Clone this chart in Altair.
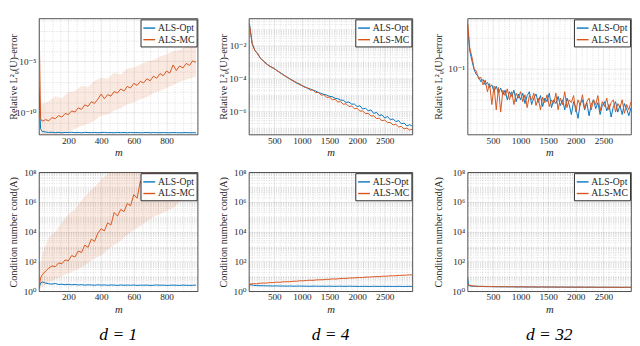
import altair as alt
import pandas as pd

BLUE = "#0072BD"
ORANGE = "#D95319"
INK = "#262626"
FONT = "'Liberation Serif', 'Times New Roman', Times, 'DejaVu Serif', serif"
SERIES = ["ALS-Opt", "ALS-MC"]

# ---------------- d = 1 : relative error (log10 values) ----------------
M1 = [20, 30] + list(range(40, 1000, 20))
ERR1_OPT = [-7.5, -11.6, -11.85, -11.9, -11.95, -11.93, -11.97, -11.94, -11.98, -11.95,
            -11.96, -11.93, -11.97, -11.95, -11.98, -11.94, -11.96, -11.97, -11.95, -11.98,
            -11.96, -11.94, -11.97, -11.96, -11.98, -11.95, -11.97, -11.96, -11.98, -11.95,
            -11.97, -11.96, -11.98, -11.97, -11.95, -11.98, -11.96, -11.97, -11.98, -11.96,
            -11.97, -11.98, -11.96, -11.97, -11.98, -11.97, -11.96, -11.98, -11.97, -11.98]
ERR1_MC = [-0.5, -10.6, -10.85,
           -10.7, -10.8, -10.5, -10.6, -10.3, -10.45, -10.1, -10.2, -9.85, -9.95,
           -9.55, -9.7, -9.25, -9.4, -8.95, -9.1, -8.7, -8.2, -8.65, -8.25,
           -8.4, -7.95, -8.1, -7.7, -7.9, -7.45, -7.6, -7.15, -7.35, -6.95,
           -7.1, -6.7, -6.9, -6.45, -6.65, -6.2, -6.4, -5.95, -6.15, -5.35,
           -5.9, -5.45, -5.65, -5.2, -5.4, -4.95, -5.1]
M1_BAND = [30, 40] + list(range(80, 961, 40)) + [980]
ERR1_MC_HI = [-8.5, -9.2, -8.9, -8.4, -8.6, -8.0, -7.9, -7.4, -7.5, -6.9,
              -6.6, -6.7, -6.1, -6.3, -5.7, -5.6, -5.3, -5.0, -4.9, -4.5,
              -4.3, -4.0, -3.9, -3.5, -3.3, -3.2]
ERR1_MC_LO = [-12.3, -12.3, -12.3, -12.3, -12.1, -11.9, -11.6, -11.3, -11.1, -10.8,
              -10.3, -10.2, -9.8, -9.6, -9.2, -9.0, -8.7, -8.5, -8.1, -7.9,
              -7.6, -7.3, -7.0, -6.8, -6.6, -6.5]

# ---------------- d = 4 : relative error (log10 values) ----------------
M2 = list(range(50, 3001, 50))
ERR2_OPT = [-0.65, -1.9, -2.28, -2.5, -2.75, -2.92, -3.05, -3.22, -3.28, -3.4,
            -3.5, -3.64, -3.72, -3.86, -3.93, -4.07, -4.12, -4.27, -4.3, -4.43,
            -4.48, -4.6, -4.62, -4.7, -4.76, -4.84, -4.9, -4.96, -5.0, -5.08,
            -5.1, -5.2, -5.22, -5.3, -5.32, -5.45, -5.42, -5.55, -5.55, -5.7,
            -5.65, -5.85, -5.8, -5.95, -5.9, -6.12, -6.05, -6.25, -6.2, -6.4,
            -6.3, -6.5, -6.45, -6.62, -6.55, -6.75, -6.7, -6.88, -6.8, -6.9]
ERR2_MC = [-0.7, -1.85, -2.3, -2.47, -2.78, -2.9, -3.1, -3.18, -3.33, -3.37,
           -3.53, -3.6, -3.76, -3.83, -3.97, -4.03, -4.18, -4.22, -4.36, -4.4,
           -4.54, -4.53, -4.7, -4.68, -4.85, -4.84, -5.0, -4.98, -5.14, -5.12,
           -5.28, -5.26, -5.42, -5.4, -5.56, -5.53, -5.7, -5.66, -5.83, -5.81,
           -5.98, -5.96, -6.13, -6.11, -6.28, -6.26, -6.43, -6.4, -6.56, -6.52,
           -6.68, -6.66, -6.82, -6.78, -6.94, -6.91, -7.06, -7.01, -7.13, -7.07]

# ---------------- d = 32 : relative error (plain values) ----------------
M3 = list(range(40, 3001, 40))
ERR3_OPT = [0.27, 0.15, 0.12, 0.098, 0.088, 0.084, 0.075, 0.079, 0.07, 0.074, 0.066, 0.07, 0.06, 0.068, 0.058,
            0.065, 0.056, 0.062, 0.05, 0.06, 0.054, 0.062, 0.048, 0.057, 0.05, 0.058, 0.046, 0.055, 0.06, 0.045,
            0.052, 0.057, 0.047, 0.055, 0.043, 0.052, 0.048, 0.058, 0.042, 0.05, 0.046, 0.054, 0.044, 0.05, 0.04,
            0.052, 0.045, 0.036, 0.048, 0.042, 0.033, 0.046, 0.05, 0.04, 0.047, 0.035, 0.045, 0.05, 0.041, 0.047,
            0.036, 0.044, 0.048, 0.039, 0.045, 0.034, 0.043, 0.048, 0.038, 0.044, 0.036, 0.046, 0.041, 0.035, 0.042]
ERR3_MC = [0.29, 0.16, 0.13, 0.1, 0.095, 0.08, 0.083, 0.07, 0.078, 0.06, 0.072, 0.045, 0.068, 0.04, 0.066,
           0.038, 0.062, 0.055, 0.064, 0.05, 0.06, 0.045, 0.058, 0.052, 0.06, 0.048, 0.056, 0.042, 0.055, 0.05,
           0.058, 0.044, 0.052, 0.04, 0.053, 0.047, 0.056, 0.043, 0.05, 0.046, 0.058, 0.04, 0.052, 0.045, 0.06,
           0.042, 0.05, 0.047, 0.055, 0.038, 0.05, 0.044, 0.056, 0.041, 0.048, 0.052, 0.04, 0.05, 0.045, 0.055,
           0.039, 0.048, 0.043, 0.052, 0.04, 0.047, 0.05, 0.038, 0.046, 0.042, 0.05, 0.037, 0.045, 0.04, 0.048]

# ---------------- d = 1 : condition number (log10 values) ----------------
M4 = [20, 30, 40] + list(range(60, 1000, 20))
COND1_OPT = [0.2, 0.55, 0.62, 0.55, 0.5, 0.48, 0.52, 0.45, 0.47, 0.44,
             0.46, 0.43, 0.45, 0.42, 0.44, 0.41, 0.43, 0.42, 0.4, 0.43,
             0.41, 0.42, 0.4, 0.42, 0.41, 0.39, 0.42, 0.4, 0.41, 0.4,
             0.42, 0.39, 0.41, 0.4, 0.41, 0.39, 0.4, 0.42, 0.4, 0.41,
             0.39, 0.4, 0.41, 0.4, 0.39, 0.41, 0.4, 0.39, 0.4, 0.41]
M4_MC = M4[:36]
COND1_MC = [0.2, 0.9, 1.1, 1.35, 1.55, 1.7, 1.65, 1.9, 1.85, 2.1,
            2.05, 2.4, 2.3, 2.7, 2.6, 3.1, 2.95, 3.5, 3.35, 3.9,
            4.2, 4.05, 4.6, 4.45, 5.3, 5.05, 5.5, 5.35, 5.9, 5.75,
            6.5, 6.25, 7.4, 7.05, 8.3, 8.7]
M4_BAND = [20, 40] + list(range(80, 881, 40))
COND1_MC_HI = [1.0, 2.5, 3.6, 4.0, 4.6, 5.2, 5.5, 6.1, 6.6, 7.0, 7.5, 7.9, 8.3,
               9, 9, 9, 9, 9, 9, 9, 9, 9, 9]
COND1_MC_LO = [0.0, 0.3, 0.6, 0.8, 1.0, 1.2, 1.4, 1.6, 1.9, 2.2, 2.4, 2.8, 3.1,
               3.4, 3.8, 4.1, 4.4, 4.7, 5.0, 5.2, 5.4, 5.6, 6.0]

# ---------------- d = 4 / d = 32 : condition number (log10 values) ----------------
M5 = [40] + list(range(60, 3001, 60))
COND4_OPT = [0.42, 0.45, 0.4, 0.38, 0.37, 0.37, 0.36, 0.36, 0.35, 0.36,
             0.35, 0.35, 0.34, 0.35, 0.34, 0.34, 0.35, 0.34, 0.34, 0.33,
             0.34, 0.34, 0.33, 0.34, 0.33, 0.34, 0.33, 0.33, 0.34, 0.33,
             0.33, 0.34, 0.33, 0.33, 0.32, 0.33, 0.33, 0.32, 0.33, 0.33,
             0.32, 0.33, 0.32, 0.33, 0.32, 0.32, 0.33, 0.32, 0.32, 0.33, 0.32]
COND4_MC = [0.02, 0.48, 0.51, 0.5, 0.54, 0.55, 0.55, 0.58, 0.58, 0.61,
            0.6, 0.63, 0.64, 0.64, 0.67, 0.67, 0.7, 0.7, 0.72, 0.74,
            0.73, 0.76, 0.77, 0.77, 0.8, 0.8, 0.83, 0.82, 0.85, 0.86,
            0.86, 0.89, 0.89, 0.91, 0.92, 0.92, 0.95, 0.95, 0.97, 0.98,
            0.98, 1.01, 1.01, 1.03, 1.04, 1.04, 1.07, 1.07, 1.08, 1.1, 1.1]
COND32_OPT = [0.9, 0.38, 0.34, 0.33, 0.32, 0.32, 0.31, 0.31, 0.31, 0.3,
              0.3, 0.3, 0.3, 0.29, 0.3, 0.29, 0.29, 0.29, 0.29, 0.28,
              0.29, 0.28, 0.28, 0.29, 0.28, 0.28, 0.28, 0.28, 0.27, 0.28,
              0.28, 0.27, 0.28, 0.27, 0.27, 0.28, 0.27, 0.27, 0.27, 0.27,
              0.26, 0.27, 0.27, 0.26, 0.27, 0.26, 0.27, 0.26, 0.26, 0.27, 0.26]
COND32_MC = [0.55, 0.42, 0.36, 0.34, 0.33, 0.33, 0.32, 0.32, 0.31, 0.31,
             0.31, 0.3, 0.31, 0.3, 0.3, 0.3, 0.29, 0.3, 0.29, 0.29,
             0.29, 0.29, 0.28, 0.29, 0.28, 0.29, 0.28, 0.28, 0.28, 0.28,
             0.27, 0.28, 0.28, 0.27, 0.28, 0.27, 0.27, 0.27, 0.28, 0.27,
             0.27, 0.26, 0.27, 0.27, 0.26, 0.27, 0.26, 0.26, 0.27, 0.26, 0.26]

ERR_TITLE = "Relative L²ᵨ(U)-error"
COND_TITLE = "Condition number cond(A)"

SUP = str.maketrans("0123456789-", "⁰¹²³⁴⁵⁶⁷⁸⁹⁻")


def pow10(e):
    return "10" + str(e).translate(SUP)


def log_test(e):
    return f"abs(log(datum.value) / LN10 - ({e})) < 0.001"


def minor_log(lo_e, hi_e):
    return [k * 10.0 ** e for e in range(lo_e, hi_e + 1) for k in range(1, 10)]


def y_axis(title, major_exps, minor_vals, lo, hi, extent=21):
    major = [10.0 ** e for e in major_exps]
    vals = sorted(v for v in set(major) | set(minor_vals) if lo <= v <= hi)
    label = "".join(f"{log_test(e)} ? '{pow10(e)}' : " for e in major_exps) + "''"
    test = " || ".join(log_test(e) for e in major_exps)
    return alt.Axis(title=title, values=vals, labelExpr=label, labelOverlap=False,
                    grid=True, gridColor=INK, gridWidth=0.6,
                    gridOpacity={"condition": {"test": test, "value": 0.18}, "value": 0.25},
                    gridDash={"condition": {"test": test, "value": []}, "value": [1, 1.5]},
                    ticks=False, domain=False, labelPadding=3,
                    minExtent=extent, maxExtent=extent, titlePadding=0)


def x_axis(major, minor):
    vals = sorted(set(major) | set(minor))
    test = " || ".join(f"datum.value == {v}" for v in major)
    return alt.Axis(title="m", titleFontStyle="italic", values=vals, format="d",
                    labelExpr=f"({test}) ? datum.label : ''", labelOverlap=False,
                    grid=True, gridColor=INK, gridWidth=0.6,
                    gridOpacity={"condition": {"test": test, "value": 0.18}, "value": 0.25},
                    gridDash={"condition": {"test": test, "value": []}, "value": [1, 1.5]},
                    ticks=False, domain=False, labelPadding=1, titlePadding=2,
                    titleFontSize=11)


def lines_df(m_opt, opt, m_mc, mc, log=True):
    f = (lambda a: [10.0 ** v for v in a]) if log else list
    return pd.concat([
        pd.DataFrame({"m": m_opt, "v": f(opt), "series": "ALS-Opt"}),
        pd.DataFrame({"m": m_mc, "v": f(mc), "series": "ALS-MC"}),
    ], ignore_index=True)


LEGEND = alt.Legend(title=None, orient="top-right", offset=1, fillColor="white",
                    strokeColor=INK, padding=2, symbolType="stroke", symbolSize=150,
                    symbolStrokeWidth=1.4, labelFont=FONT, labelFontSize=10,
                    labelColor=INK, rowPadding=0, labelOffset=2, cornerRadius=0)


def panel(df, bands, xdom, ydom, xax, yax, w, h, title=None):
    xs = alt.Scale(domain=xdom, nice=False, zero=False)
    ys = alt.Scale(type="log", domain=ydom, nice=False)
    layers = []
    for bdf in bands:
        layers.append(alt.Chart(bdf).mark_area(color=ORANGE, opacity=0.13, clip=True).encode(
            x=alt.X("m:Q", scale=xs, axis=xax),
            y=alt.Y("lo:Q", scale=ys, axis=yax),
            y2="hi:Q"))
    layers.append(alt.Chart(df).mark_line(strokeWidth=1, clip=True).encode(
        x=alt.X("m:Q", scale=xs, axis=xax),
        y=alt.Y("v:Q", scale=ys, axis=yax),
        color=alt.Color("series:N", scale=alt.Scale(domain=SERIES, range=[BLUE, ORANGE]),
                        legend=LEGEND)))
    ch = alt.layer(*layers).properties(width=w, height=h)
    if title is not None:
        ch = ch.properties(title=alt.TitleParams(title, orient="bottom", anchor="middle",
                                                 frame="group", offset=13))
    return ch


def band_df(m, lo, hi):
    return pd.DataFrame({"m": m, "lo": [10.0 ** v for v in lo], "hi": [10.0 ** v for v in hi]})


X1_MAJOR = [200, 400, 600, 800]
X1_MINOR = list(range(50, 990, 50))
X2_MAJOR = [500, 1000, 1500, 2000, 2500]
X2_MINOR = list(range(100, 3000, 100))

D1 = [20, 990]
D2 = [40, 3000]

y1 = [10 ** -12.15, 10 ** -0.8]
y2 = [10 ** -7.4, 10 ** -0.33]
y3 = [0.023, 0.31]
yc = [1.0, 1e8]

p1 = panel(lines_df(M1, ERR1_OPT, M1, ERR1_MC),
           [band_df(M1_BAND, ERR1_MC_LO, ERR1_MC_HI)], D1, y1,
           x_axis(X1_MAJOR, X1_MINOR),
           y_axis(ERR_TITLE, [-10, -5], [10.0 ** e for e in range(-13, 1)], *y1), 164, 120)
p2 = panel(lines_df(M2, ERR2_OPT, M2, ERR2_MC), [], D2, y2,
           x_axis(X2_MAJOR, X2_MINOR),
           y_axis(ERR_TITLE, [-6, -4, -2], minor_log(-8, 0), *y2), 169, 120)
p3 = panel(lines_df(M3, ERR3_OPT, M3, ERR3_MC, log=False), [], D2, y3,
           x_axis(X2_MAJOR, X2_MINOR),
           y_axis(ERR_TITLE, [-1], minor_log(-2, -1), *y3, extent=25), 169, 120)
p4 = panel(lines_df(M4, COND1_OPT, M4_MC, COND1_MC),
           [band_df(M4_BAND, COND1_MC_LO, COND1_MC_HI)], D1, yc,
           x_axis(X1_MAJOR, X1_MINOR),
           y_axis(COND_TITLE, [0, 2, 4, 6, 8], minor_log(0, 8), *yc), 164, 123, "d = 1")
p5 = panel(lines_df(M5, COND4_OPT, M5, COND4_MC), [], D2, yc,
           x_axis(X2_MAJOR, X2_MINOR),
           y_axis(COND_TITLE, [0, 2, 4, 6, 8], minor_log(0, 8), *yc), 169, 123, "d = 4")
p6 = panel(lines_df(M5, COND32_OPT, M5, COND32_MC), [], D2, yc,
           x_axis(X2_MAJOR, X2_MINOR),
           y_axis(COND_TITLE, [0, 2, 4, 6, 8], minor_log(0, 8), *yc, extent=25), 169, 123, "d = 32")

row1 = alt.hconcat(p1, p2, p3, spacing=20).resolve_scale(color="independent")
row2 = alt.hconcat(p4, p5, p6, spacing=20).resolve_scale(color="independent")

chart = (alt.vconcat(row1, row2, spacing=9)
         .resolve_scale(color="independent")
         .properties(padding=0, background="white")
         .configure_view(stroke=INK, strokeWidth=0.8)
         .configure_axis(labelFont=FONT, titleFont=FONT, labelColor=INK, titleColor=INK,
                         labelFontSize=9.5, titleFontSize=10.5, titleFontWeight="normal")
         .configure_title(font=FONT, fontSize=18, fontStyle="italic", fontWeight="normal",
                          color="black"))

chart.save("out.html", embed_options={"renderer": "svg", "actions": False})
